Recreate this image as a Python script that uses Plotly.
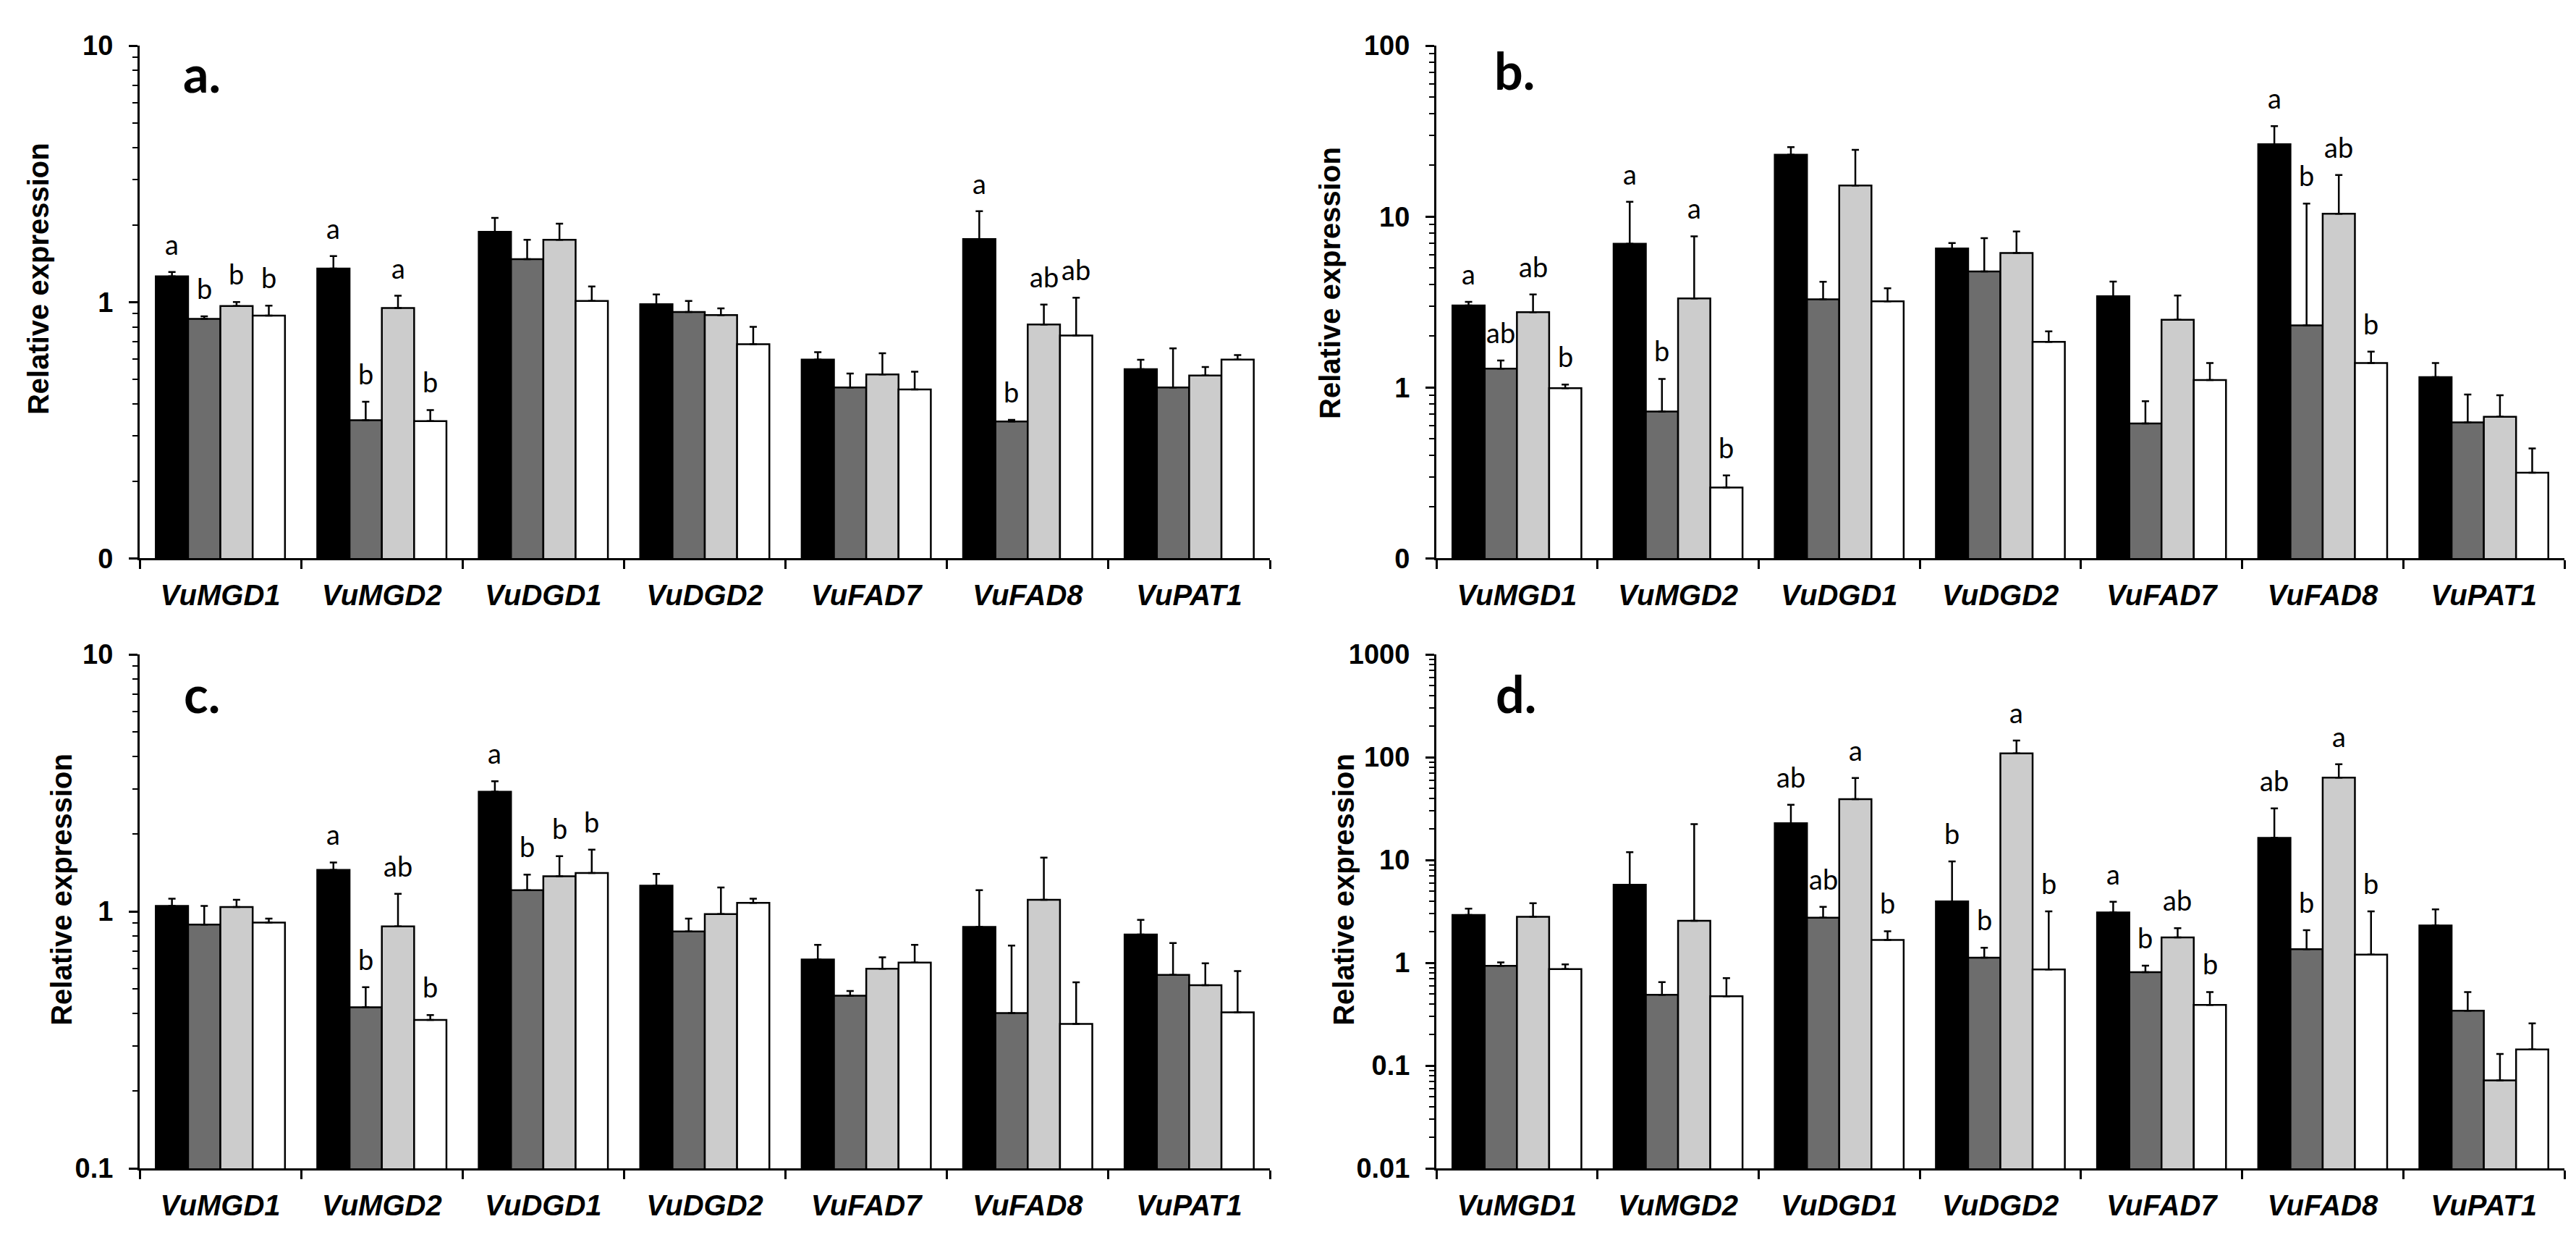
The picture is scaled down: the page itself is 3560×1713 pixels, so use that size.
import numpy as np
import plotly.graph_objects as go
from plotly.subplots import make_subplots

# ============================================
# DATA  (mean relative expression + upper error)
# ============================================
genes = ["VuMGD1", "VuMGD2", "VuDGD1", "VuDGD2", "VuFAD7", "VuFAD8", "VuPAT1"]

# panel a
a_black = [1.26, 1.35, 1.88, 0.98, 0.596, 1.76, 0.547]
a_dark = [0.86, 0.346, 1.47, 0.915, 0.464, 0.342, 0.464]
a_light = [0.965, 0.948, 1.75, 0.89, 0.522, 0.817, 0.517]
a_white = [0.885, 0.343, 1.01, 0.685, 0.456, 0.74, 0.596]
a_black_err = [0.05, 0.16, 0.25, 0.09, 0.041, 0.50, 0.048]
a_dark_err = [0.02, 0.062, 0.28, 0.095, 0.062, 0.005, 0.195]
a_light_err = [0.035, 0.11, 0.27, 0.055, 0.109, 0.16, 0.041]
a_white_err = [0.083, 0.036, 0.14, 0.115, 0.079, 0.30, 0.025]
a_letters = [["a", "a", "", "", "", "a", ""],
             ["b", "b", "", "", "", "b", ""],
             ["b", "a", "", "", "", "ab", ""],
             ["b", "b", "", "", "", "ab", ""]]

# panel b
b_black = [3.02, 6.94, 23.0, 6.51, 3.42, 26.5, 1.15]
b_dark = [1.29, 0.723, 3.28, 4.77, 0.616, 2.31, 0.625]
b_light = [2.76, 3.32, 15.2, 6.13, 2.49, 10.4, 0.674]
b_white = [0.99, 0.26, 3.19, 1.85, 1.105, 1.39, 0.317]
b_black_err = [0.15, 5.26, 2.5, 0.5, 0.75, 7.3, 0.24]
b_dark_err = [0.15, 0.40, 0.87, 2.71, 0.215, 9.6, 0.285]
b_light_err = [0.74, 4.35, 9.4, 2.06, 0.96, 7.1, 0.226]
b_white_err = [0.05, 0.046, 0.62, 0.28, 0.285, 0.23, 0.123]
b_letters = [["a", "a", "", "", "", "a", ""],
             ["ab", "b", "", "", "", "b", ""],
             ["ab", "a", "", "", "", "ab", ""],
             ["b", "b", "", "", "", "b", ""]]

# panel c
c_black = [1.05, 1.45, 2.92, 1.26, 0.65, 0.871, 0.813]
c_dark = [0.889, 0.424, 1.21, 0.836, 0.47, 0.402, 0.566]
c_light = [1.04, 0.874, 1.37, 0.976, 0.598, 1.11, 0.516]
c_white = [0.905, 0.378, 1.41, 1.08, 0.632, 0.365, 0.405]
c_black_err = [0.07, 0.10, 0.29, 0.14, 0.091, 0.339, 0.114]
c_dark_err = [0.161, 0.083, 0.18, 0.101, 0.02, 0.334, 0.188]
c_light_err = [0.07, 0.296, 0.27, 0.264, 0.065, 0.51, 0.112]
c_white_err = [0.032, 0.017, 0.33, 0.04, 0.109, 0.165, 0.181]
c_letters = [["", "a", "a", "", "", "", ""],
             ["", "b", "b", "", "", "", ""],
             ["", "ab", "b", "", "", "", ""],
             ["", "b", "b", "", "", "", ""]]

# panel d
d_black = [2.92, 5.74, 22.8, 3.95, 3.09, 16.4, 2.31]
d_dark = [0.934, 0.489, 2.75, 1.12, 0.81, 1.36, 0.342]
d_light = [2.8, 2.56, 39.0, 109.0, 1.77, 63.2, 0.072]
d_white = [0.868, 0.473, 1.67, 0.861, 0.39, 1.2, 0.144]
d_black_err = [0.44, 6.16, 11.7, 5.75, 0.83, 15.4, 1.0]
d_dark_err = [0.076, 0.161, 0.75, 0.28, 0.13, 0.72, 0.178]
d_light_err = [1.0, 19.8, 23.7, 36.0, 0.40, 22.1, 0.058]
d_white_err = [0.096, 0.237, 0.36, 2.31, 0.13, 1.97, 0.114]
d_letters = [["", "", "ab", "b", "a", "ab", ""],
             ["", "", "ab", "b", "b", "b", ""],
             ["", "", "a", "a", "ab", "a", ""],
             ["", "", "b", "b", "b", "b", ""]]

# y axis decade labels
a_ticks = ["0", "1", "10"]
b_ticks = ["0", "1", "10", "100"]
c_ticks = ["0.1", "1", "10"]
d_ticks = ["0.01", "0.1", "1", "10", "100", "1000"]

# ============================================
# STYLE
# ============================================
bar_colors = ["#000000", "#6d6d6d", "#cccccc", "#ffffff"]
ARIAL = "Liberation Sans, Arial, sans-serif"
CALIBRI = "Lato, Open Sans, sans-serif"

panels = [
    dict(means=[a_black, a_dark, a_light, a_white],
         errs=[a_black_err, a_dark_err, a_light_err, a_white_err],
         letters=a_letters, lo=-1, hi=1, ticks=a_ticks, label="a.",
         lab_x=0.037, lab_y=0.946, title_x=45, title_y=365),
    dict(means=[b_black, b_dark, b_light, b_white],
         errs=[b_black_err, b_dark_err, b_light_err, b_white_err],
         letters=b_letters, lo=-1, hi=2, ticks=b_ticks, label="b.",
         lab_x=0.050, lab_y=0.952, title_x=1830, title_y=371),
    dict(means=[c_black, c_dark, c_light, c_white],
         errs=[c_black_err, c_dark_err, c_light_err, c_white_err],
         letters=c_letters, lo=-1, hi=1, ticks=c_ticks, label="c.",
         lab_x=0.038, lab_y=0.924, title_x=77, title_y=1230),
    dict(means=[d_black, d_dark, d_light, d_white],
         errs=[d_black_err, d_dark_err, d_light_err, d_white_err],
         letters=d_letters, lo=-2, hi=3, ticks=d_ticks, label="d.",
         lab_x=0.051, lab_y=0.924, title_x=1849, title_y=1230),
]

W, H = 3560, 1713
x_domains = [[185 / W, 1747 / W], [1977 / W, 3536 / W]]
y_domains = [[1 - 761 / H, 1 - 35 / H], [1 - 1625 / H, 1 - 897 / H]]

fig = make_subplots(rows=2, cols=2)
annotations = []

for k, p in enumerate(panels):
    row, col = k // 2 + 1, k % 2 + 1
    sfx = "" if k == 0 else str(k + 1)

    for i in range(4):
        fig.add_trace(go.Bar(
            x=genes, y=p["means"][i],
            marker=dict(color=bar_colors[i], line=dict(color="black", width=2.5)),
            error_y=dict(type="data", symmetric=False, array=p["errs"][i],
                         arrayminus=[0] * len(genes), color="black",
                         thickness=2.5, width=5),
            showlegend=False, hoverinfo="skip"), row=row, col=col)

        # significance letters above each error bar
        for j, txt in enumerate(p["letters"][i]):
            if not txt:
                continue
            top = p["means"][i][j] + p["errs"][i][j]
            annotations.append(dict(
                x=j + (i - 1.5) * 0.2, y=np.log10(top),
                xref="x" + sfx, yref="y" + sfx, text=txt, showarrow=False,
                yanchor="bottom", yshift=14,
                font=dict(family=CALIBRI, size=38, color="black")))

    decades = list(range(p["lo"], p["hi"] + 1))
    minor_vals = [m * 10.0 ** e for e in range(p["lo"], p["hi"]) for m in range(2, 10)]

    fig.update_yaxes(
        type="log", range=[p["lo"], p["hi"]], domain=y_domains[row - 1],
        tickmode="array", tickvals=[10.0 ** e for e in decades], ticktext=p["ticks"],
        ticks="outside", ticklen=12, tickwidth=2.5, tickcolor="black",
        ticklabelstandoff=14,
        minor=dict(tickmode="array", tickvals=minor_vals, ticks="outside",
                   ticklen=7, tickwidth=2, tickcolor="black", showgrid=False),
        showline=True, linewidth=3, linecolor="black",
        showgrid=False, zeroline=False,
        tickfont=dict(family=ARIAL, size=38, color="black", weight="bold"),
        row=row, col=col)

    fig.update_xaxes(
        type="category", range=[-0.5, len(genes) - 0.5], domain=x_domains[col - 1],
        ticks="outside", tickson="boundaries", ticklen=12, tickwidth=2.5,
        tickcolor="black", ticklabelstandoff=14,
        showline=True, linewidth=3, linecolor="black", showgrid=False,
        tickfont=dict(family=ARIAL, size=40, color="black", weight="bold",
                      style="italic"),
        row=row, col=col)

    # panel label
    annotations.append(dict(
        x=p["lab_x"], y=p["lab_y"], xref="x" + sfx + " domain", yref="y" + sfx + " domain",
        text=p["label"], showarrow=False, xanchor="left", yanchor="middle",
        font=dict(family=CALIBRI, size=70, color="black", weight="bold")))

    # y axis title
    annotations.append(dict(
        x=p["title_x"] / W, y=1 - p["title_y"] / H, xref="paper", yref="paper",
        text="Relative expression", textangle=-90, showarrow=False,
        xanchor="center", yanchor="middle",
        font=dict(family=ARIAL, size=40, color="black", weight="bold")))

fig.update_layout(
    width=W, height=H,
    margin=dict(l=0, r=0, t=0, b=0),
    barmode="group", bargap=0.2, bargroupgap=0,
    plot_bgcolor="white", paper_bgcolor="white",
    annotations=annotations,
    showlegend=False,
)

fig.write_html("out.html")
